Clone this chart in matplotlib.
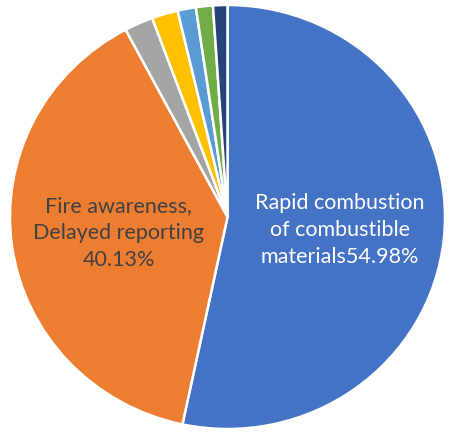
import matplotlib
matplotlib.use("Agg")
import matplotlib.pyplot as plt

# Causes of fire spread; only the two large shares carry labels
categories = ["Rapid combustion\nof combustible\nmaterials",
              "Fire awareness,\nDelayed reporting\n",
              "", "", "", "", ""]
shares = [54.98, 40.13, 2.2, 2.0, 1.4, 1.3, 1.1]
colors = ["#4472C4", "#ED7D31", "#A5A5A5", "#FFC000", "#5B9BD5", "#70AD47", "#264478"]

plt.rcParams['font.family'] = ['Lato', 'DejaVu Sans']

fig = plt.figure(figsize=(4.49, 4.34), dpi=100)
ax = fig.add_axes([10 / 449, 5 / 434, 435 / 449, 424 / 434])

wedges, _ = ax.pie(shares, colors=colors, startangle=90, counterclock=False,
                   radius=1.0, wedgeprops=dict(edgecolor='white', linewidth=1.8))
ax.set_aspect('auto')
ax.set_xlim(-1, 1)
ax.set_ylim(-1, 1)

ax.text(0.517, -0.061, f"{categories[0]}{shares[0]:.2f}%", color='white',
        ha='center', va='center', fontsize=15.5, linespacing=1.45)
ax.text(-0.501, -0.075, f"{categories[1]}{shares[1]:.2f}%", color='#404040',
        ha='center', va='center', fontsize=15.5, linespacing=1.45)

fig.savefig("out.png", dpi=100)
plt.close(fig)
